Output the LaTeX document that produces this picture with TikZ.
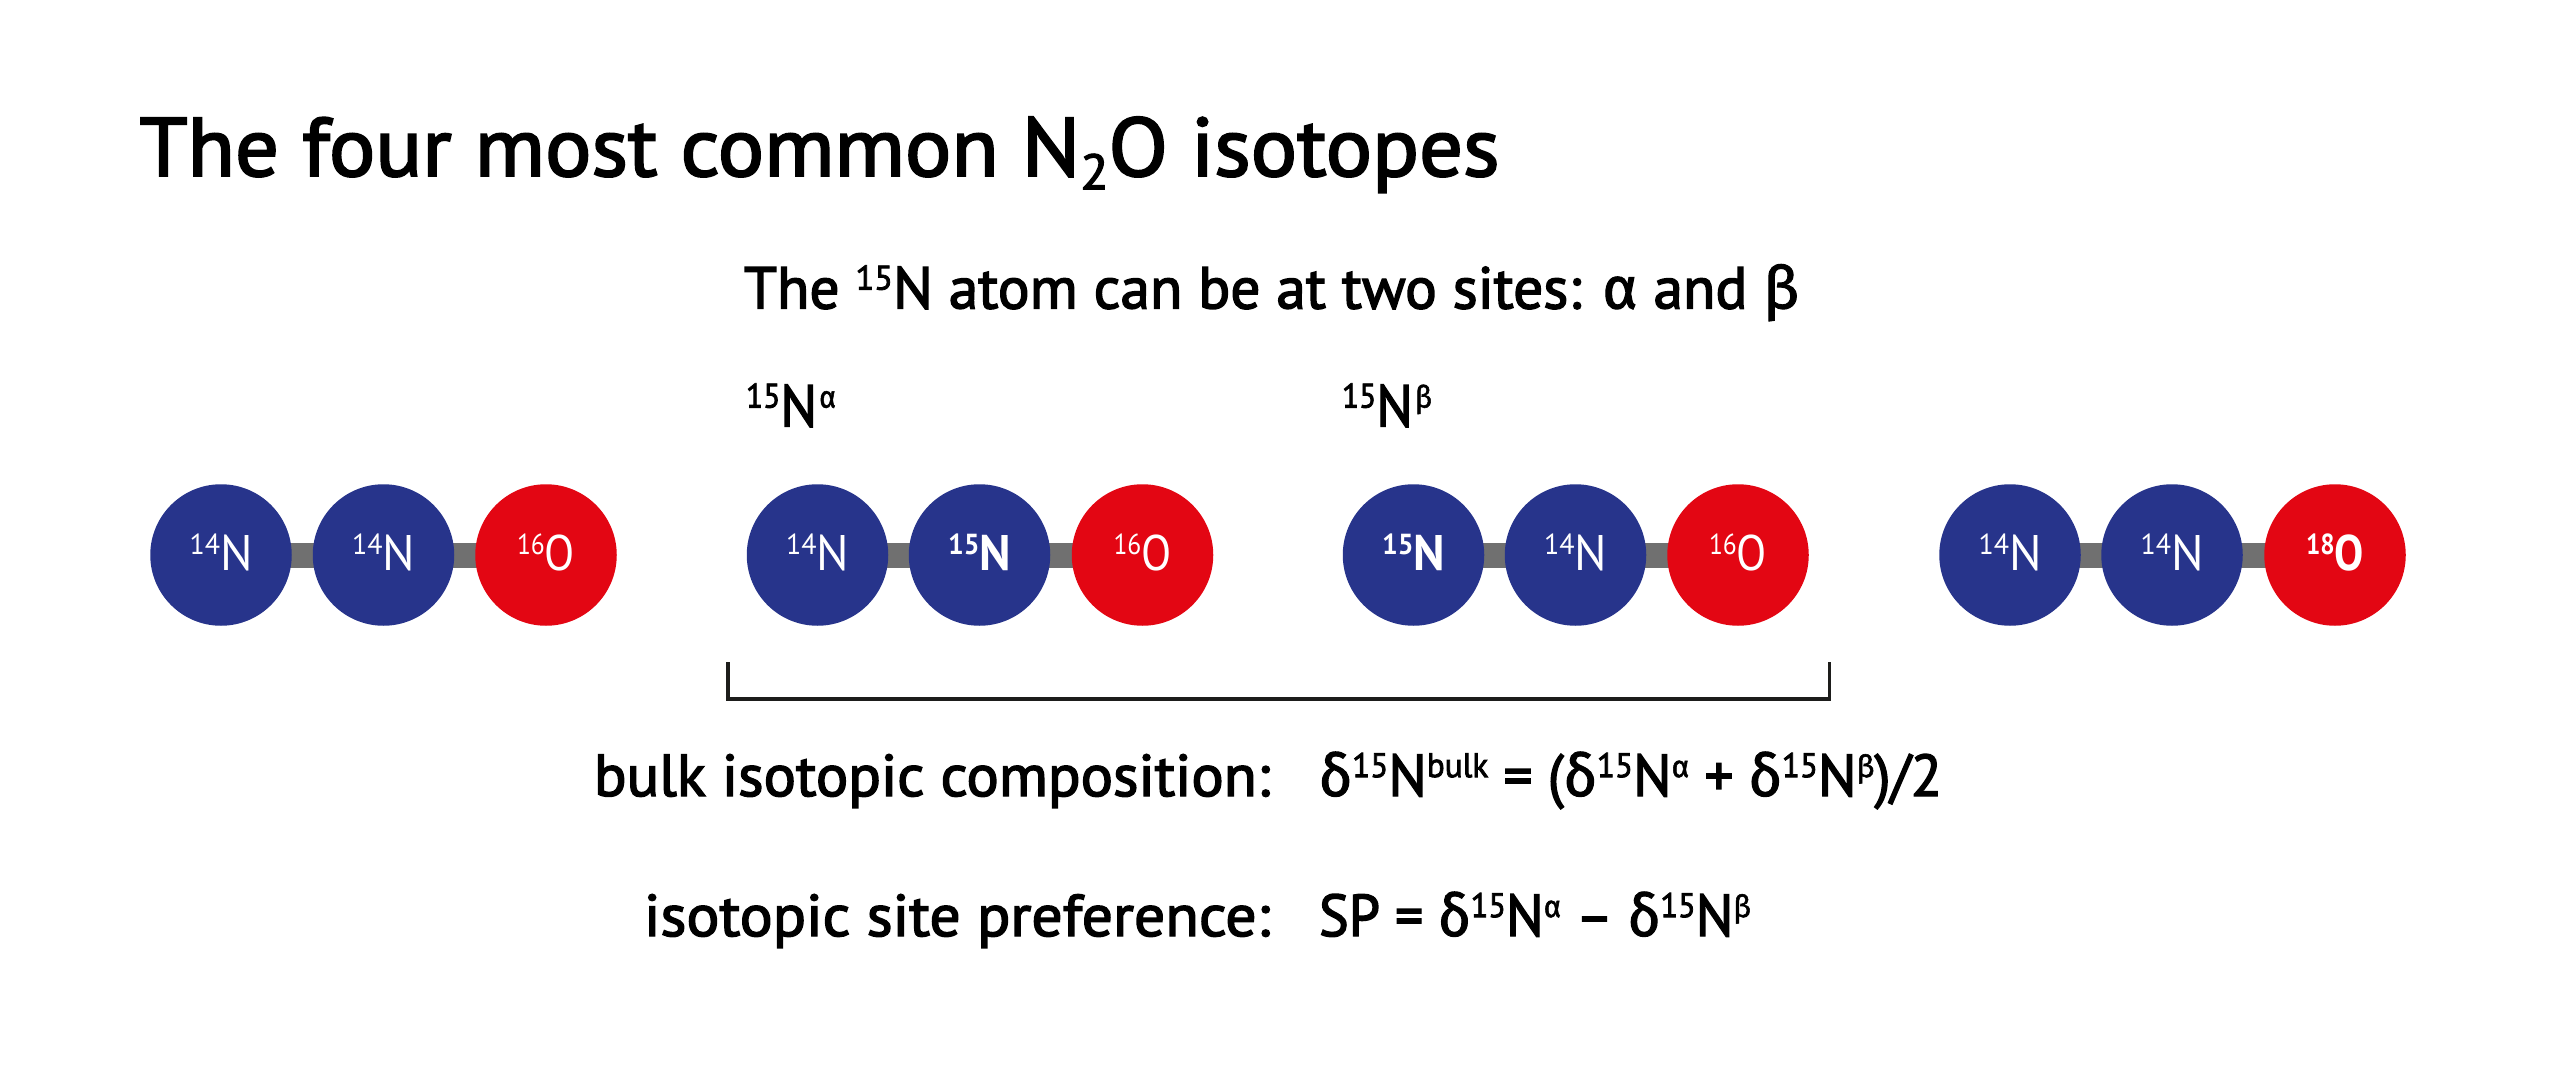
\documentclass[tikz,border=0pt]{standalone}
\usepackage{graphicx}
\usepackage{fontspec}
\setmainfont{PT Sans}
\newfontfamily\medfont[FakeBold=2.4]{PT Sans}
\newfontfamily\grkfont[FakeBold=1.8]{Fira Sans}
\usetikzlibrary{backgrounds}
\definecolor{nblue}{HTML}{27348B}
\definecolor{ored}{HTML}{E30613}
\definecolor{bondgray}{HTML}{707070}
\definecolor{brk}{HTML}{1D1D1B}
\newcommand\sups[1]{\raisebox{.32em}{\scalebox{.58}{#1}}}
\newcommand\gsup[1]{\raisebox{.32em}{\scalebox{.52}{\grkfont #1}}}
\newcommand\grk[1]{{\grkfont #1}}
\newcommand\fit[2]{\resizebox{#1}{\height}{#2}}
\newcommand\atomtext[2]{\rule[-6pt]{0pt}{1pt}\fit{#1}{#2}\hspace{3.6pt}}
\newcommand\isoN[1]{\atomtext{63pt}{\sups{#1}N}}
\newcommand\isoO[1]{\atomtext{58pt}{\sups{#1}O}}
\newcommand\boldN[1]{\atomtext{63pt}{\bfseries\sups{#1}N}}
\newcommand\boldO[1]{\atomtext{58pt}{\bfseries\sups{#1}O}}
\tikzset{
  x=1pt,y=-1pt,
  atomN/.style={circle,fill=nblue,minimum size=141.5pt,inner sep=0pt,outer sep=0pt,text=white,font=\fontsize{50}{52}\selectfont},
  atomO/.style={atomN,fill=ored},
  bond/.style={draw=bondgray,line width=25pt},
  label/.style={anchor=base west,inner sep=0pt,outer sep=0pt,text=black},
  txt/.style={font=\fontsize{59}{61}\selectfont\medfont},
  bracketline/.style={draw=brk,line width=3.5pt,line cap=butt,line join=miter},
}
\begin{document}
\begin{tikzpicture}
\useasboundingbox (0,0) rectangle (2552,1075);
% molecule 1
\node[atomN] (a1) at (221,555) {\isoN{14}};
\node[atomN] (a2) at (383.5,555) {\isoN{14}};
\node[atomO] (a3) at (546,555) {\isoO{16}};
% molecule 2
\node[atomN] (b1) at (817.5,555) {\isoN{14}};
\node[atomN] (b2) at (979.5,555) {\boldN{15}};
\node[atomO] (b3) at (1142.5,555) {\isoO{16}};
% molecule 3
\node[atomN] (c1) at (1413.5,555) {\boldN{15}};
\node[atomN] (c2) at (1575.5,555) {\isoN{14}};
\node[atomO] (c3) at (1738,555) {\isoO{16}};
% molecule 4
\node[atomN] (d1) at (2010,555) {\isoN{14}};
\node[atomN] (d2) at (2172,555) {\isoN{14}};
\node[atomO] (d3) at (2335,555) {\boldO{18}};
\begin{pgfonlayer}{background}
\draw[bond] (a1.center) -- (a2.center) -- (a3.center);
\draw[bond] (b1.center) -- (b2.center) -- (b3.center);
\draw[bond] (c1.center) -- (c2.center) -- (c3.center);
\draw[bond] (d1.center) -- (d2.center) -- (d3.center);
\end{pgfonlayer}
% texts
\node[label] (title) at (139.5,176) {\fit{1360pt}{\fontsize{83}{90}\selectfont\medfont The four most common N\raisebox{-.16em}{\scalebox{.6}{2}}O isotopes}};
\node[label,txt] (sub) at (744,308.5) {\fit{1055pt}{The \sups{15}N atom can be at two sites: \grk{α} and \grk{β}}};
\node[label,txt] (nalpha) at (746,426.5) {\fit{90pt}{\sups{15}N\hspace{.04em}\gsup{α}}};
\node[label,txt] (nbeta) at (1342,426.5) {\fit{90pt}{\sups{15}N\hspace{.04em}\gsup{β}}};
\node[label,txt] (bulk) at (594,796) {\fit{676pt}{bulk isotopic composition:}};
\node[label,txt] (bulkf) at (1319,796) {\fit{623pt}{\grk{δ}\sups{15}N\sups{bulk} = (\grk{δ}\sups{15}N\gsup{α} + \grk{δ}\sups{15}N\gsup{β})/2}};
\node[label,txt] (site) at (644,936) {\fit{626pt}{isotopic site preference:}};
\node[label,txt] (sitef) at (1319,936) {\fit{432pt}{SP = \grk{δ}\sups{15}N\gsup{α} – \grk{δ}\sups{15}N\gsup{β}}};
% bracket
\coordinate (bl) at (728,662);
\coordinate (br) at (1829.5,662);
\draw[bracketline] (bl) -- (bl |- 0,699) -- (br |- 0,699) -- (br);
\end{tikzpicture}
\end{document}
